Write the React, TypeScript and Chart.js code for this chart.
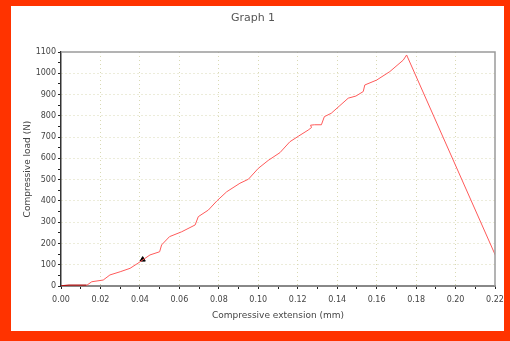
import React, { useEffect, useRef } from "react";
import { Chart, registerables } from "chart.js";

Chart.register(...registerables);

const titleText = "Graph 1";
const xTitle = "Compressive extension (mm)";
const yTitle = "Compressive load (N)";

const extension = [
  0.013, 0.0156, 0.0214, 0.0248, 0.03, 0.035, 0.039, 0.0451, 0.05, 0.051, 0.055, 0.0612, 0.068,
  0.0696, 0.0747, 0.079, 0.084, 0.0907, 0.095, 0.1, 0.105, 0.111, 0.116, 0.1205, 0.1253,
  0.127, 0.1265, 0.1285, 0.132, 0.1335, 0.137, 0.141, 0.1456, 0.1495, 0.1532, 0.154, 0.16,
  0.1667, 0.1735, 0.1752, 0.2205,
];
const load = [
  3, 20, 28, 52, 67, 83, 107, 146, 161, 193, 232, 255, 287,
  326, 357, 400, 443, 483, 502, 553, 590, 627, 678, 705, 733,
  745, 756, 758, 758, 796, 812, 845, 883, 893, 914, 945, 968,
  1008, 1062, 1086, 138,
];
const baseX = [0, 0.004, 0.013];
const baseY = [1, 4, 4];
const markerX = [0.0414];
const markerY = [124];

const xTickValues = Array.from({ length: 23 }, (_, i) => i / 100);
const yTickValues = Array.from({ length: 23 }, (_, i) => i * 50);

const FONT = "'DejaVu Sans', Verdana, sans-serif";

export default function App() {
  const ref = useRef<HTMLCanvasElement>(null);
  useEffect(() => {
    document.body.style.margin = "0";
    const ctx = ref.current!.getContext("2d")!;
    const frame = {
      id: "frame",
      afterDraw(chart: any) {
        const { ctx, chartArea: a } = chart;
        ctx.save();
        ctx.strokeStyle = "#9a9a9a";
        ctx.lineWidth = 1.5;
        ctx.beginPath();
        ctx.moveTo(a.left, a.top);
        ctx.lineTo(a.right, a.top);
        ctx.lineTo(a.right, a.bottom);
        ctx.stroke();
        ctx.restore();
      },
    };
    const chart = new Chart(ctx, {
      type: "line",
      data: {
        datasets: [
          {
            data: extension.map((x, i) => ({ x, y: load[i] })),
            borderColor: "#ff5a5a",
            borderWidth: 1,
            pointRadius: 0,
            tension: 0,
          },
          {
            data: baseX.map((x, i) => ({ x, y: baseY[i] })),
            borderColor: "#b01010",
            borderWidth: 1.2,
            pointRadius: 0,
            tension: 0,
          },
          {
            data: markerX.map((x, i) => ({ x, y: markerY[i] })),
            showLine: false,
            pointStyle: "triangle",
            pointRadius: 3,
            backgroundColor: "#000",
            borderColor: "#000",
          },
        ],
      },
      plugins: [frame],
      options: {
        animation: false,
        responsive: false,
        layout: { padding: { left: 0, right: 15, top: 0, bottom: 0 } },
        plugins: {
          legend: { display: false },
          tooltip: { enabled: false },
          title: {
            display: true,
            text: titleText,
            color: "#555",
            font: { family: FONT, size: 11, weight: "normal" },
            padding: { top: 6, bottom: 26.8 },
          },
        },
        scales: {
          x: {
            type: "linear",
            min: 0,
            max: 0.22,
            afterBuildTicks: (s: any) => {
              s.ticks = xTickValues.map((v) => ({ value: v }));
            },
            afterFit: (s: any) => {
              s.height = 45;
            },
            ticks: {
              autoSkip: false,
              maxRotation: 0,
              color: "#444",
              font: { family: FONT, size: 8 },
              padding: 6,
              callback: (v: any, i: number) => (i % 2 === 0 ? Number(v).toFixed(2) : ""),
            },
            grid: {
              color: (c: any) => (c.index % 2 === 0 && c.index > 0 && c.index < 22 ? "#d9d9b4" : "transparent"),
              tickColor: "#222",
              tickLength: 3,
            },
            border: { color: "#888", width: 2, dash: [1, 3] },
            title: {
              display: true,
              text: xTitle,
              color: "#444",
              font: { family: FONT, size: 9 },
              padding: { top: 4, bottom: 10 },
            },
          },
          y: {
            type: "linear",
            min: 0,
            max: 1100,
            afterBuildTicks: (s: any) => {
              s.ticks = yTickValues.map((v) => ({ value: v }));
            },
            afterFit: (s: any) => {
              s.width = 50;
            },
            ticks: {
              autoSkip: false,
              color: "#444",
              font: { family: FONT, size: 8 },
              padding: 2,
              callback: (v: any, i: number) => (i % 2 === 0 ? String(v) : ""),
            },
            grid: {
              color: (c: any) => (c.index % 2 === 0 && c.index > 0 && c.index < 22 ? "#d9d9b4" : "transparent"),
              tickColor: "#222",
              tickLength: 3,
            },
            border: { color: "#333", width: 1.5, dash: [1, 3] },
            title: {
              display: true,
              text: yTitle,
              color: "#444",
              font: { family: FONT, size: 9 },
              padding: { top: 11, bottom: 4 },
            },
          },
        },
      },
    });
    return () => chart.destroy();
  }, []);
  return (
    <div
      style={{
        position: "absolute",
        left: 0,
        top: 0,
        width: 510,
        height: 341,
        boxSizing: "border-box",
        background: "#fff",
        borderStyle: "solid",
        borderColor: "#ff3300",
        borderWidth: "6px 6px 10px 11px",
      }}
    >
      <canvas
        ref={ref}
        width={499}
        height={325}
        style={{ display: "block", position: "absolute", left: 0, top: 0 }}
      />
    </div>
  );
}
